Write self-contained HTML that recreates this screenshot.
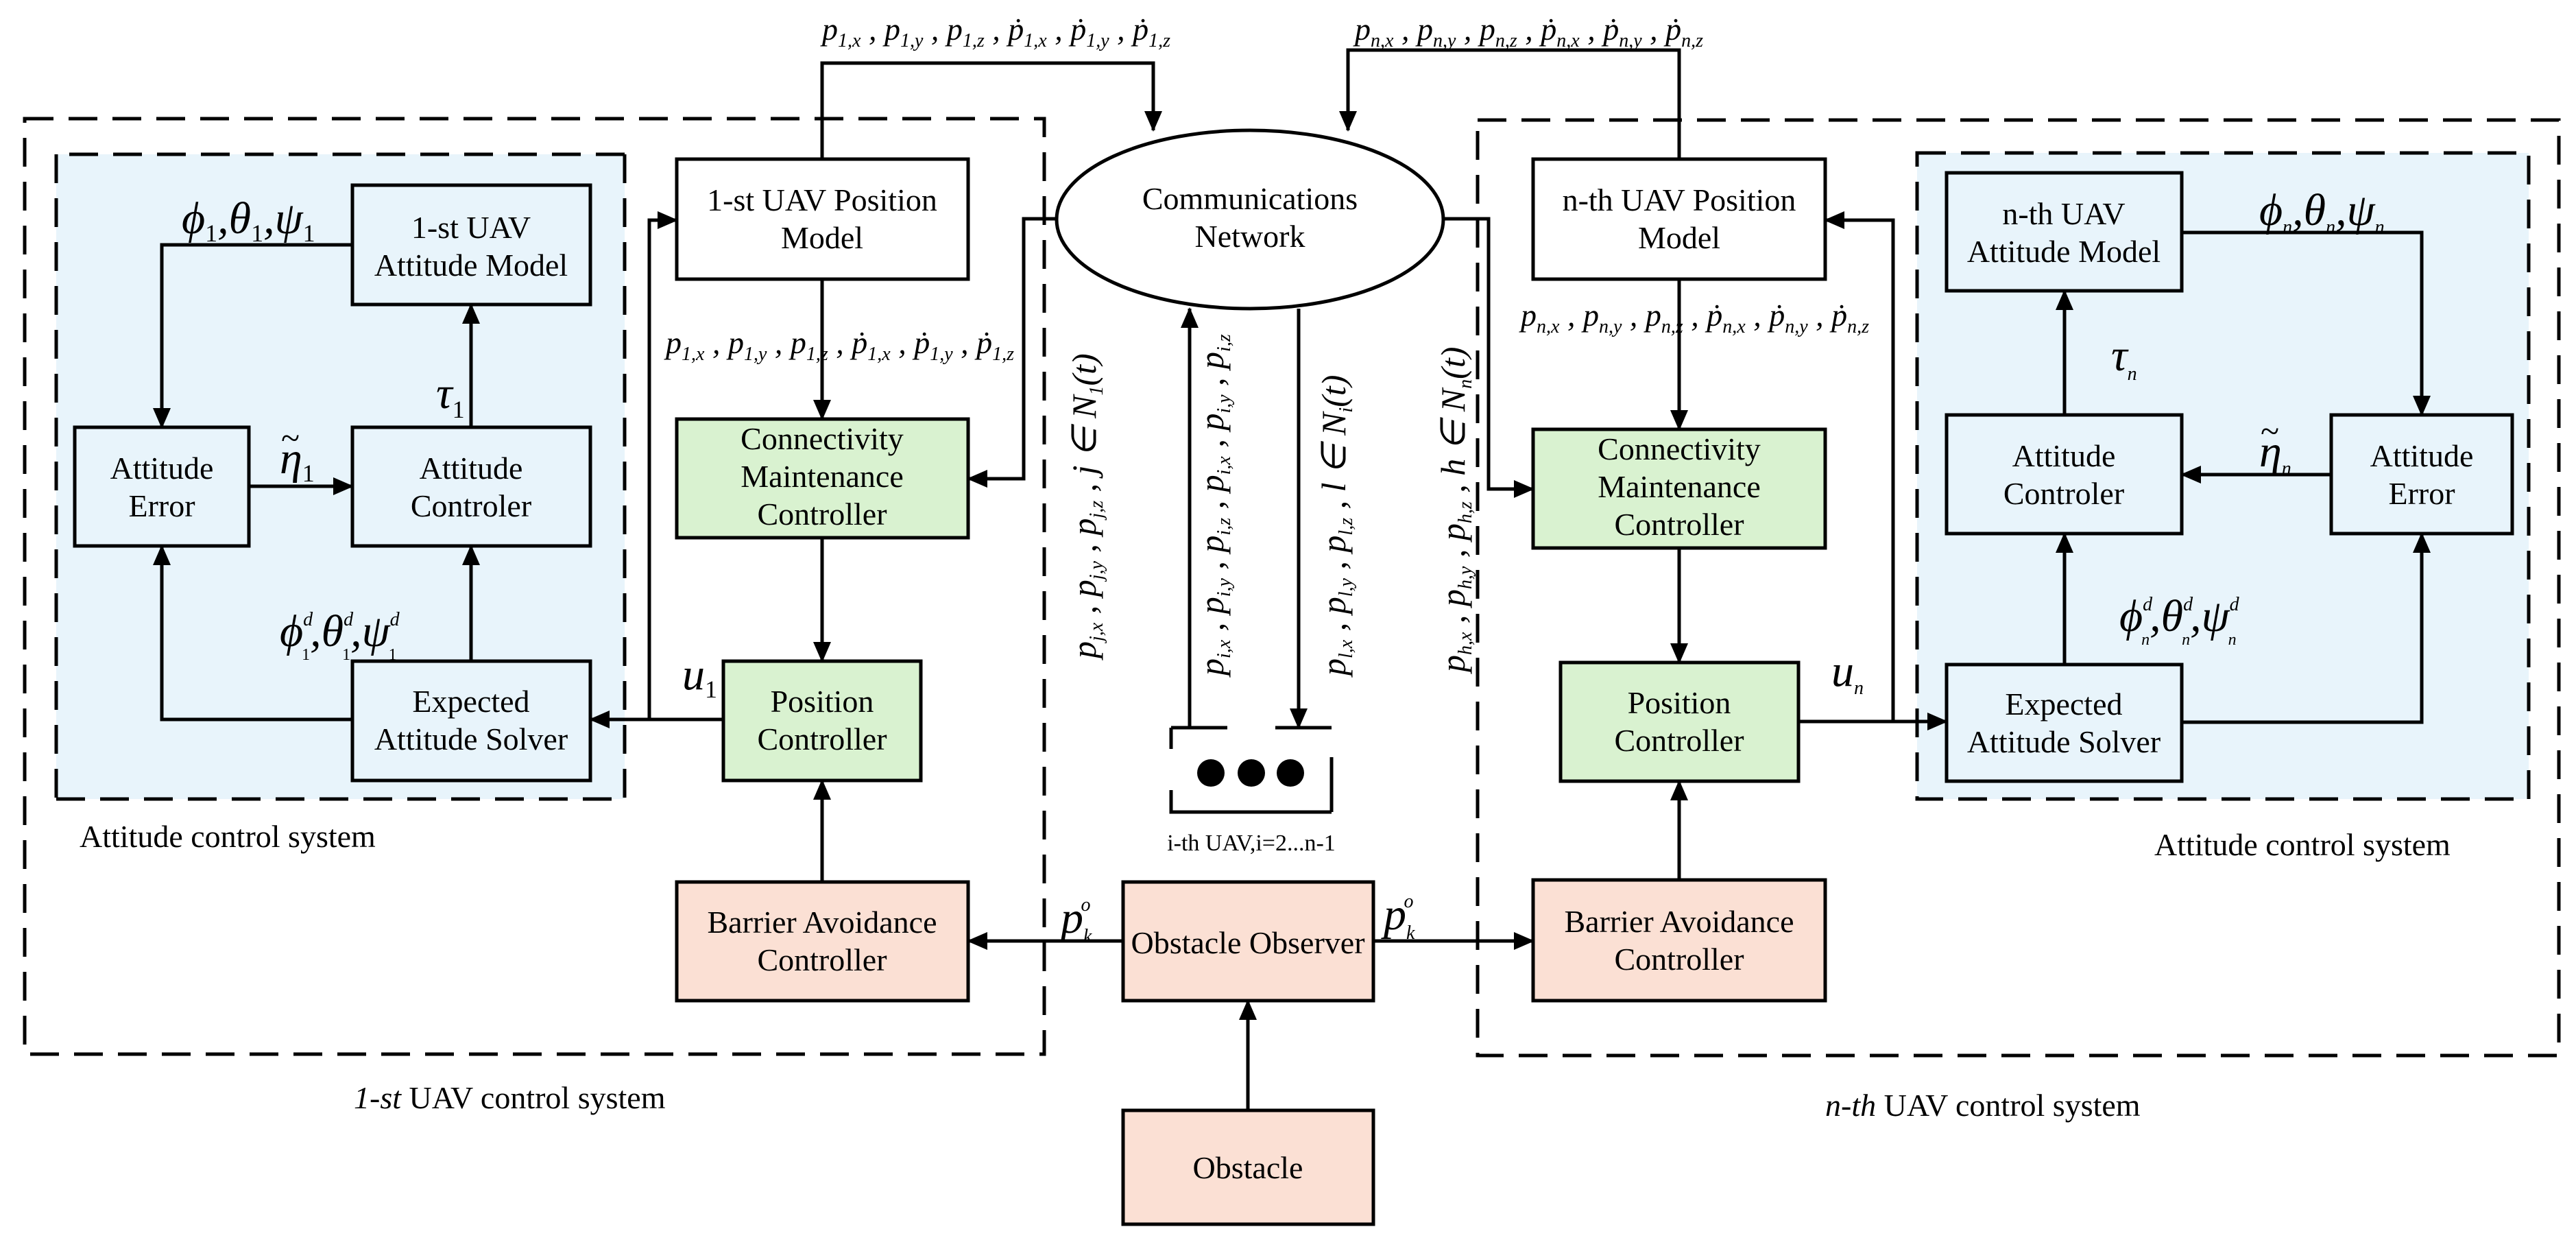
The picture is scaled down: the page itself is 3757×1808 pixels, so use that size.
<!DOCTYPE html>
<html><head><meta charset="utf-8"><style>
html,body{margin:0;padding:0;background:#fff}
svg{display:block}
.t{font-family:"Liberation Serif",serif;font-size:46px;fill:#000;text-anchor:middle}
.m{font-family:"Liberation Serif",serif;font-style:italic;font-size:46px;fill:#000}
.s{font-size:28px}
.g{font-family:"Liberation Serif",serif;font-style:italic;font-size:66px;fill:#000}
.gs{font-size:36px;font-style:normal}
.L{stroke:#000;stroke-width:5;fill:none}
.D{stroke:#000;stroke-width:5;fill:none;stroke-dasharray:42 22}
.b{stroke:#000;stroke-width:5}
</style></head><body>
<svg width="3757" height="1808" viewBox="0 0 3757 1808" xmlns="http://www.w3.org/2000/svg">
<defs>
<marker id="a" markerUnits="userSpaceOnUse" markerWidth="30" markerHeight="26" refX="28" refY="13" orient="auto">
<path d="M0,0 L30,13 L0,26 Z" fill="#000"/></marker>
</defs>
<rect x="82" y="225" width="829" height="940" fill="#e8f4fb"/>
<path class="D" d="M911,225 H82 M82,1165 H911 M911,225 V1165 M82,225 V1165"/>
<rect x="2796" y="223" width="892" height="942" fill="#e8f4fb"/>
<path class="D" d="M2796,223 H3688 V1165 H2796 Z"/>
<path class="D" d="M36,173 H1523 V1537 H36 Z"/>
<path class="D" d="M2155,175 H3732 V1539 H2155 Z"/>

<rect class="b" x="514" y="270" width="347" height="174" fill="#e8f4fb"/>
<text class="t" x="687" y="347">1-st UAV</text><text class="t" x="687" y="402">Attitude Model</text>
<rect class="b" x="109" y="623" width="254" height="173" fill="#e8f4fb"/>
<text class="t" x="236" y="698">Attitude</text><text class="t" x="236" y="753">Error</text>
<rect class="b" x="514" y="623" width="347" height="173" fill="#e8f4fb"/>
<text class="t" x="687" y="698">Attitude</text><text class="t" x="687" y="753">Controler</text>
<rect class="b" x="514" y="964" width="347" height="174" fill="#e8f4fb"/>
<text class="t" x="687" y="1038">Expected</text><text class="t" x="687" y="1093">Attitude Solver</text>
<rect class="b" x="987" y="232" width="425" height="175" fill="#fff"/>
<text class="t" x="1199" y="307">1-st UAV Position</text><text class="t" x="1199" y="362">Model</text>
<rect class="b" x="987" y="611" width="425" height="173" fill="#d9f2d0"/>
<text class="t" x="1199" y="655">Connectivity</text><text class="t" x="1199" y="710">Maintenance</text><text class="t" x="1199" y="765">Controller</text>
<rect class="b" x="1055" y="964" width="288" height="174" fill="#d9f2d0"/>
<text class="t" x="1199" y="1038">Position</text><text class="t" x="1199" y="1093">Controller</text>
<rect class="b" x="987" y="1286" width="425" height="173" fill="#fbe0d4"/>
<text class="t" x="1199" y="1360">Barrier Avoidance</text><text class="t" x="1199" y="1415">Controller</text>

<ellipse class="b" cx="1823" cy="320" rx="282" ry="130" fill="#fff"/>
<text class="t" x="1823" y="305">Communications</text><text class="t" x="1823" y="360">Network</text>
<rect class="b" x="1638" y="1286" width="365" height="173" fill="#fbe0d4"/>
<text class="t" x="1820" y="1390">Obstacle Observer</text>
<rect class="b" x="1638" y="1619" width="365" height="166" fill="#fbe0d4"/>
<text class="t" x="1820" y="1718">Obstacle</text>
<path class="L" d="M1708,1061 H1790 M1860,1061 H1942 M1708,1061 V1092 M1708,1152 V1184 H1942 M1942,1104 V1184"/>
<circle cx="1766" cy="1127" r="20"/><circle cx="1825" cy="1127" r="20"/><circle cx="1882" cy="1127" r="20"/>
<text class="t" x="1825" y="1240" style="font-size:34px">i-th UAV,i=2...n-1</text>

<rect class="b" x="2236" y="232" width="426" height="175" fill="#fff"/>
<text class="t" x="2449" y="307">n-th UAV Position</text><text class="t" x="2449" y="362">Model</text>
<rect class="b" x="2236" y="626" width="426" height="173" fill="#d9f2d0"/>
<text class="t" x="2449" y="670">Connectivity</text><text class="t" x="2449" y="725">Maintenance</text><text class="t" x="2449" y="780">Controller</text>
<rect class="b" x="2276" y="966" width="347" height="173" fill="#d9f2d0"/>
<text class="t" x="2449" y="1040">Position</text><text class="t" x="2449" y="1095">Controller</text>
<rect class="b" x="2236" y="1283" width="426" height="176" fill="#fbe0d4"/>
<text class="t" x="2449" y="1359">Barrier Avoidance</text><text class="t" x="2449" y="1414">Controller</text>
<rect class="b" x="2839" y="252" width="343" height="172" fill="#e8f4fb"/>
<text class="t" x="3010" y="327">n-th UAV</text><text class="t" x="3010" y="382">Attitude Model</text>
<rect class="b" x="2839" y="605" width="343" height="173" fill="#e8f4fb"/>
<text class="t" x="3010" y="680">Attitude</text><text class="t" x="3010" y="735">Controler</text>
<rect class="b" x="3400" y="605" width="264" height="173" fill="#e8f4fb"/>
<text class="t" x="3532" y="680">Attitude</text><text class="t" x="3532" y="735">Error</text>
<rect class="b" x="2839" y="969" width="343" height="170" fill="#e8f4fb"/>
<text class="t" x="3010" y="1042">Expected</text><text class="t" x="3010" y="1097">Attitude Solver</text>

<path class="L" d="M514,357 H236 V623" marker-end="url(#a)"/>
<path class="L" d="M363,709 H514" marker-end="url(#a)"/>
<path class="L" d="M687,623 V444" marker-end="url(#a)"/>
<path class="L" d="M687,964 V796" marker-end="url(#a)"/>
<path class="L" d="M514,1049 H236 V796" marker-end="url(#a)"/>
<path class="L" d="M1055,1049 H861" marker-end="url(#a)"/>
<path class="L" d="M947,1049 V321 H987" marker-end="url(#a)"/>
<path class="L" d="M1199,407 V611" marker-end="url(#a)"/>
<path class="L" d="M1199,784 V964" marker-end="url(#a)"/>
<path class="L" d="M1199,1286 V1138" marker-end="url(#a)"/>
<path class="L" d="M1638,1372 H1412" marker-end="url(#a)"/>
<path class="L" d="M1820,1619 V1459" marker-end="url(#a)"/>
<path class="L" d="M1199,232 V92 H1682 V190" marker-end="url(#a)"/>
<path class="L" d="M2449,232 V73 H1966 V190" marker-end="url(#a)"/>
<path class="L" d="M1541,319 H1493 V698 H1412" marker-end="url(#a)"/>
<path class="L" d="M1735,1061 V450" marker-end="url(#a)"/>
<path class="L" d="M1894,450 V1061" marker-end="url(#a)"/>
<path class="L" d="M2105,319 H2171 V713 H2236" marker-end="url(#a)"/>
<path class="L" d="M2623,1052 H2839" marker-end="url(#a)"/>
<path class="L" d="M2761,1052 V321 H2662" marker-end="url(#a)"/>
<path class="L" d="M2449,407 V626" marker-end="url(#a)"/>
<path class="L" d="M2449,799 V966" marker-end="url(#a)"/>
<path class="L" d="M2449,1283 V1139" marker-end="url(#a)"/>
<path class="L" d="M2003,1372 H2236" marker-end="url(#a)"/>
<path class="L" d="M3182,339 H3532 V605" marker-end="url(#a)"/>
<path class="L" d="M3400,692 H3182" marker-end="url(#a)"/>
<path class="L" d="M3011,605 V424" marker-end="url(#a)"/>
<path class="L" d="M3011,969 V778" marker-end="url(#a)"/>
<path class="L" d="M3182,1053 H3532 V778" marker-end="url(#a)"/>

<text class="m" x="1199" y="58">p<tspan class="s" dy="10">1,x</tspan><tspan dy="-10"> , p</tspan><tspan class="s" dy="10">1,y</tspan><tspan dy="-10"> , p</tspan><tspan class="s" dy="10">1,z</tspan><tspan dy="-10"> , ṗ</tspan><tspan class="s" dy="10">1,x</tspan><tspan dy="-10"> , ṗ</tspan><tspan class="s" dy="10">1,y</tspan><tspan dy="-10"> , ṗ</tspan><tspan class="s" dy="10">1,z</tspan></text>
<text class="m" x="1976" y="58">p<tspan class="s" dy="10">n,x</tspan><tspan dy="-10"> , p</tspan><tspan class="s" dy="10">n,y</tspan><tspan dy="-10"> , p</tspan><tspan class="s" dy="10">n,z</tspan><tspan dy="-10"> , ṗ</tspan><tspan class="s" dy="10">n,x</tspan><tspan dy="-10"> , ṗ</tspan><tspan class="s" dy="10">n,y</tspan><tspan dy="-10"> , ṗ</tspan><tspan class="s" dy="10">n,z</tspan></text>
<text class="m" x="971" y="515">p<tspan class="s" dy="10">1,x</tspan><tspan dy="-10"> , p</tspan><tspan class="s" dy="10">1,y</tspan><tspan dy="-10"> , p</tspan><tspan class="s" dy="10">1,z</tspan><tspan dy="-10"> , ṗ</tspan><tspan class="s" dy="10">1,x</tspan><tspan dy="-10"> , ṗ</tspan><tspan class="s" dy="10">1,y</tspan><tspan dy="-10"> , ṗ</tspan><tspan class="s" dy="10">1,z</tspan></text>
<text class="m" x="2218" y="475">p<tspan class="s" dy="10">n,x</tspan><tspan dy="-10"> , p</tspan><tspan class="s" dy="10">n,y</tspan><tspan dy="-10"> , p</tspan><tspan class="s" dy="10">n,z</tspan><tspan dy="-10"> , ṗ</tspan><tspan class="s" dy="10">n,x</tspan><tspan dy="-10"> , ṗ</tspan><tspan class="s" dy="10">n,y</tspan><tspan dy="-10"> , ṗ</tspan><tspan class="s" dy="10">n,z</tspan></text>

<g transform="translate(1598,960) rotate(-90)"><text class="m" style="font-size:50px">p<tspan class="s" dy="10">j,x</tspan><tspan dy="-10"> , p</tspan><tspan class="s" dy="10">j,y</tspan><tspan dy="-10"> , p</tspan><tspan class="s" dy="10">j,z</tspan><tspan dy="-10"> , j ∈ N</tspan><tspan class="s" dy="10">1</tspan><tspan dy="-10">(t)</tspan></text></g>
<g transform="translate(1784,985) rotate(-90)"><text class="m" style="font-size:50px">p<tspan class="s" dy="10">i,x</tspan><tspan dy="-10"> , p</tspan><tspan class="s" dy="10">i,y</tspan><tspan dy="-10"> , p</tspan><tspan class="s" dy="10">i,z</tspan><tspan dy="-10"> , p</tspan><tspan class="s" dy="10">i,x</tspan><tspan dy="-10"> , p</tspan><tspan class="s" dy="10">i,y</tspan><tspan dy="-10"> , p</tspan><tspan class="s" dy="10">i,z</tspan></text></g>
<g transform="translate(1962,985) rotate(-90)"><text class="m" style="font-size:50px">p<tspan class="s" dy="10">l,x</tspan><tspan dy="-10"> , p</tspan><tspan class="s" dy="10">l,y</tspan><tspan dy="-10"> , p</tspan><tspan class="s" dy="10">l,z</tspan><tspan dy="-10"> , l ∈ N</tspan><tspan class="s" dy="10">i</tspan><tspan dy="-10">(t)</tspan></text></g>
<g transform="translate(2136,980) rotate(-90)"><text class="m" style="font-size:50px">p<tspan class="s" dy="10">h,x</tspan><tspan dy="-10"> , p</tspan><tspan class="s" dy="10">h,y</tspan><tspan dy="-10"> , p</tspan><tspan class="s" dy="10">h,z</tspan><tspan dy="-10"> , h ∈ N</tspan><tspan class="s" dy="10">n</tspan><tspan dy="-10">(t)</tspan></text></g>

<text class="g" x="265" y="340">ϕ<tspan class="gs" dy="12">1</tspan><tspan dy="-12">,θ</tspan><tspan class="gs" dy="12">1</tspan><tspan dy="-12">,ψ</tspan><tspan class="gs" dy="12">1</tspan></text>
<text class="g" x="408" y="690">η<tspan class="gs" dy="12">1</tspan></text>
<text class="g" x="410" y="655" style="font-size:50px;font-style:normal">~</text>
<text class="g" x="636" y="595">τ<tspan class="gs" dy="14">1</tspan></text>
<text class="g" x="408" y="942">ϕ<tspan class="s" dy="-30">d</tspan><tspan class="s" dx="-16" dy="50" style="font-style:normal;font-size:24px">1</tspan><tspan dy="-20">,θ</tspan><tspan class="s" dy="-30">d</tspan><tspan class="s" dx="-16" dy="50" style="font-style:normal;font-size:24px">1</tspan><tspan dy="-20">,ψ</tspan><tspan class="s" dy="-30">d</tspan><tspan class="s" dx="-16" dy="50" style="font-style:normal;font-size:24px">1</tspan></text>
<text class="g" x="995" y="1005">u<tspan class="gs" dy="12">1</tspan></text>
<text class="g" x="1547" y="1360">p<tspan class="s" dy="14">k</tspan><tspan class="s" dx="-16" dy="-46">o</tspan></text>
<text class="g" x="2018" y="1355">p<tspan class="s" dy="14">k</tspan><tspan class="s" dx="-16" dy="-46">o</tspan></text>
<text class="g" x="3295" y="328">ϕ<tspan class="s" dy="12">n</tspan><tspan dy="-12">,θ</tspan><tspan class="s" dy="12">n</tspan><tspan dy="-12">,ψ</tspan><tspan class="s" dy="12">n</tspan></text>
<text class="g" x="3079" y="540">τ<tspan class="s" dy="14">n</tspan></text>
<text class="g" x="3295" y="680">η<tspan class="s" dy="12">n</tspan></text>
<text class="g" x="3297" y="645" style="font-size:50px;font-style:normal">~</text>
<text class="g" x="3091" y="920">ϕ<tspan class="s" dy="-30">d</tspan><tspan class="s" dx="-16" dy="50" style="font-size:24px">n</tspan><tspan dy="-20">,θ</tspan><tspan class="s" dy="-30">d</tspan><tspan class="s" dx="-16" dy="50" style="font-size:24px">n</tspan><tspan dy="-20">,ψ</tspan><tspan class="s" dy="-30">d</tspan><tspan class="s" dx="-16" dy="50" style="font-size:24px">n</tspan></text>
<text class="g" x="2671" y="1000">u<tspan class="s" dy="12">n</tspan></text>

<text class="t" x="116" y="1235" style="text-anchor:start">Attitude control system</text>
<text class="t" x="3142" y="1247" style="text-anchor:start">Attitude control system</text>
<text class="t" x="516" y="1616" style="text-anchor:start"><tspan font-style="italic">1-st</tspan> UAV control system</text>
<text class="t" x="2662" y="1627" style="text-anchor:start"><tspan font-style="italic">n-th</tspan> UAV control system</text>
</svg>
</body></html>
